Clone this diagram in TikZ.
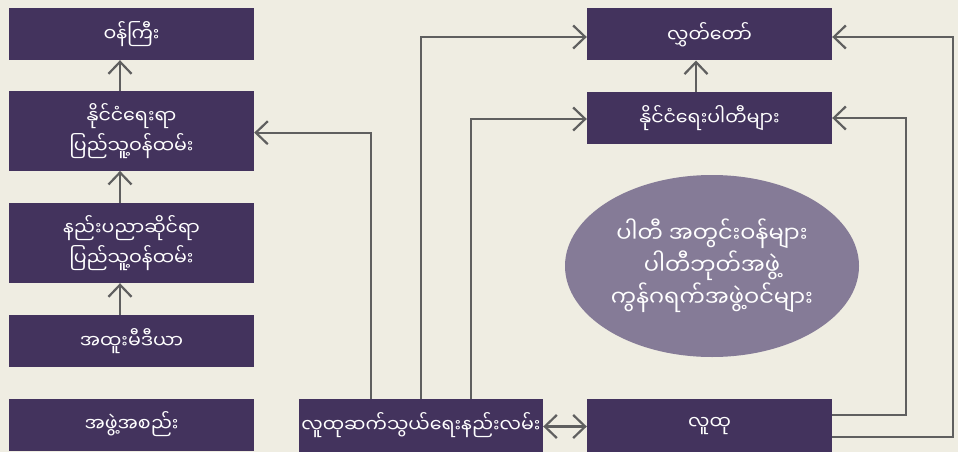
\documentclass[tikz,border=0pt]{standalone}
\usepackage{fontspec}
\newfontfamily\mmfont[Script=Myanmar]{Noto Sans Myanmar UI}
\usetikzlibrary{arrows.meta,shapes.geometric,calc}
\definecolor{paper}{RGB}{239,237,226}
\definecolor{boxfill}{RGB}{67,51,93}
\definecolor{ovalfill}{RGB}{133,123,151}
\definecolor{linegray}{RGB}{95,95,95}
\tikzset{
  unit/.style={fill=boxfill,text=white,inner sep=0pt,align=center,minimum width=245pt,minimum height=52pt,font=\mmfont\fontsize{19}{30}\selectfont},
  link/.style={draw=linegray,line width=2.2pt,-{Straight Barb[length=12pt,width=23pt]}},
}
\begin{document}
\begin{tikzpicture}[x=1pt,y=-1pt]
  \fill[paper] (0,0) rectangle (958,452);
  \useasboundingbox (0,0) rectangle (958,452);
  \node[unit] (minister) at (131.5,34) {ဝန်ကြီး};
  \node[unit,minimum height=80pt] (polserv) at (131.5,130.7) {နိုင်ငံရေးရာ\\ပြည်သူ့ဝန်ထမ်း};
  \node[unit,minimum height=80pt] (techserv) at (131.5,243) {နည်းပညာဆိုင်ရာ\\ပြည်သူ့ဝန်ထမ်း};
  \node[unit] (media) at (131.5,341) {အထူးမီဒီယာ};
  \node[unit] (org) at (131.5,424.5) {အဖွဲ့အစည်း};
  \node[unit,minimum width=244pt,minimum height=53pt] (pubcomm) at (421,425.5) {လူထုဆက်သွယ်ရေးနည်းလမ်း};
  \node[unit] (parl) at (709.5,34.3) {လွှတ်တော်};
  \node[unit] (parties) at (709.5,118) {နိုင်ငံရေးပါတီများ};
  \node[unit,minimum height=53pt] (public) at (709.5,425.5) {လူထု};
  \node[ellipse,fill=ovalfill,text=white,inner sep=0pt,minimum width=294pt,minimum height=182pt,align=center,
        font=\mmfont\fontsize{22.5}{32}\selectfont] (cadre) at (712,266) {ပါတီ အတွင်းဝန်များ\\ပါတီဘုတ်အဖွဲ့\\ကွန်ဂရက်အဖွဲ့ဝင်များ};
  %\draw[step=10pt,very thin,opacity=0.2] (0,0) grid (958,452);
  \draw[link] ([xshift=-11.5pt]polserv.north) -- ([xshift=-11.5pt]minister.south);
  \draw[link] ([xshift=-11.5pt]techserv.north) -- ([xshift=-11.5pt]polserv.south);
  \draw[link] ([xshift=-11.5pt]media.north) -- ([xshift=-11.5pt]techserv.south);
  \draw[link] ([xshift=-13.5pt]parties.north) -- ([xshift=-13.5pt]parl.south);
  \draw[link] ([xshift=-50pt]pubcomm.north) |- ([yshift=-2pt]polserv.east);
  \draw[link] (pubcomm.north) |- ([yshift=-2.7pt]parl.west);
  \draw[link] ([xshift=50pt]pubcomm.north) |- ([yshift=-1pt]parties.west);
  \draw[link,{Straight Barb[length=12pt,width=23pt]}-{Straight Barb[length=12pt,width=23pt]}] ([yshift=-1pt]pubcomm.east) -- ([yshift=-1pt]public.west);
  \draw[link] ([yshift=10.5pt]public.east) -- ++(74,0) |- (parties.east);
  \draw[link] ([yshift=-11.5pt]public.east) -- ++(121,0) |- ([yshift=-2.7pt]parl.east);
\end{tikzpicture}
\end{document}
